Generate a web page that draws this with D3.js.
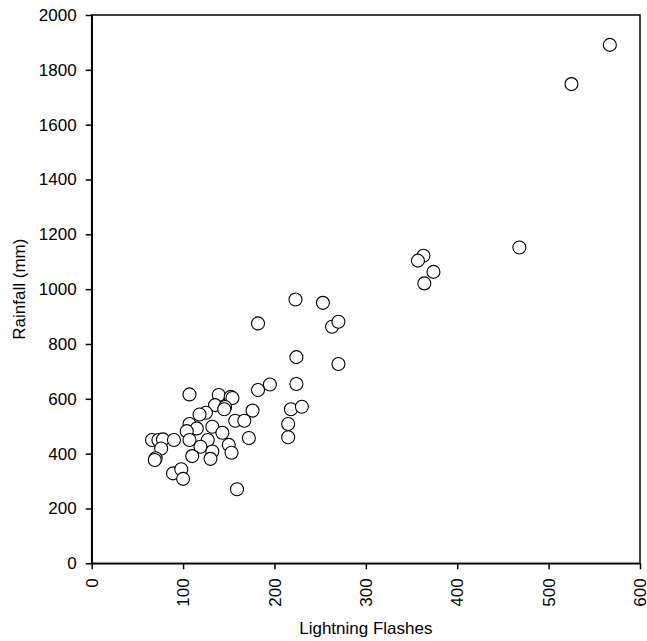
<!DOCTYPE html>
<html>
<head>
<meta charset="utf-8">
<script src="https://cdn.jsdelivr.net/npm/d3@7"></script>
<style>
  body { margin: 0; background: #fff; }
  text { font-family: "Liberation Sans", Arial, sans-serif; fill: #000; }
</style>
</head>
<body>
<script>
var width = 647;
var height = 641;
var margin = {top: 15, right: 7, bottom: 77.7, left: 91.7};

// lightning flashes vs rainfall (mm)
var flashes = [
  567, 525, 468, 363, 357, 374, 364,
  223, 253, 182, 263, 270, 224, 270, 224, 195, 182,
  107, 139, 152, 154, 135, 146, 145, 125, 118, 176, 218, 230,
  157, 167, 215, 215, 172, 107, 115, 132, 104, 143, 107, 127,
  119, 150, 153, 132, 130, 110, 66, 73, 78, 90, 76, 70, 69,
  89, 98, 100, 159
];
var rainfall = [
  1891, 1748, 1152, 1122, 1104, 1063, 1021,
  962, 950, 875, 863, 881, 752, 727, 654, 652, 632,
  616, 614, 607, 603, 577, 570, 562, 549, 543, 557, 562, 571,
  520, 520, 508, 460, 457, 508, 492, 498, 482, 476, 450, 450,
  425, 432, 403, 408, 381, 391, 450, 450, 452, 450, 419, 383, 377,
  328, 343, 308, 270
];
var xTicks = [0, 100, 200, 300, 400, 500, 600];
var yTicks = [0, 200, 400, 600, 800, 1000, 1200, 1400, 1600, 1800, 2000];

var w = width - margin.left - margin.right;
var h = height - margin.top - margin.bottom;

var svg = d3.select("body")
  .append("svg")
  .attr("width", width)
  .attr("height", height);

var g = svg.append("g")
  .attr("transform", "translate(" + margin.left + "," + margin.top + ")");

var x = d3.scaleLinear().domain([0, 600]).range([0, w]);
var y = d3.scaleLinear().domain([0, 2000]).range([h, 0]);

// frame
g.append("rect")
  .attr("width", w)
  .attr("height", h)
  .attr("fill", "none")
  .attr("stroke", "#000")
  .attr("stroke-width", 1.5);

var xAxis = g.append("g")
  .attr("transform", "translate(0," + h + ")")
  .call(d3.axisBottom(x).tickValues(xTicks).tickFormat(d3.format("d")).tickSize(6).tickSizeOuter(0));
xAxis.selectAll("text")
  .attr("y", 0)
  .attr("x", -15)
  .attr("dy", "0.33em")
  .attr("transform", "rotate(-90)")
  .style("text-anchor", "end");

var yAxis = g.append("g")
  .call(d3.axisLeft(y).tickValues(yTicks).tickFormat(d3.format("d")).tickSize(6).tickSizeOuter(0).tickPadding(9));

g.selectAll(".tick text").style("font-size", "17px").style("font-family", "'Liberation Sans', Arial, sans-serif");
g.selectAll(".domain").attr("stroke-width", 1.5);
g.selectAll(".tick line").attr("stroke-width", 1.5);

var pts = flashes.map(function(d, i) { return [d, rainfall[i]]; });

g.selectAll("circle.pt")
  .data(pts)
  .enter()
  .append("circle")
  .attr("class", "pt")
  .attr("cx", function(d) { return x(d[0]); })
  .attr("cy", function(d) { return y(d[1]); })
  .attr("r", 6.5)
  .attr("fill", "#fff")
  .attr("stroke", "#000")
  .attr("stroke-width", 1.1);

svg.append("text")
  .attr("x", margin.left + w / 2)
  .attr("y", 634)
  .attr("text-anchor", "middle")
  .style("font-size", "17px")
  .text("Lightning Flashes");

svg.append("text")
  .attr("transform", "translate(25," + (margin.top + h / 2) + ") rotate(-90)")
  .attr("text-anchor", "middle")
  .style("font-size", "17px")
  .text("Rainfall (mm)");
</script>
</body>
</html>
